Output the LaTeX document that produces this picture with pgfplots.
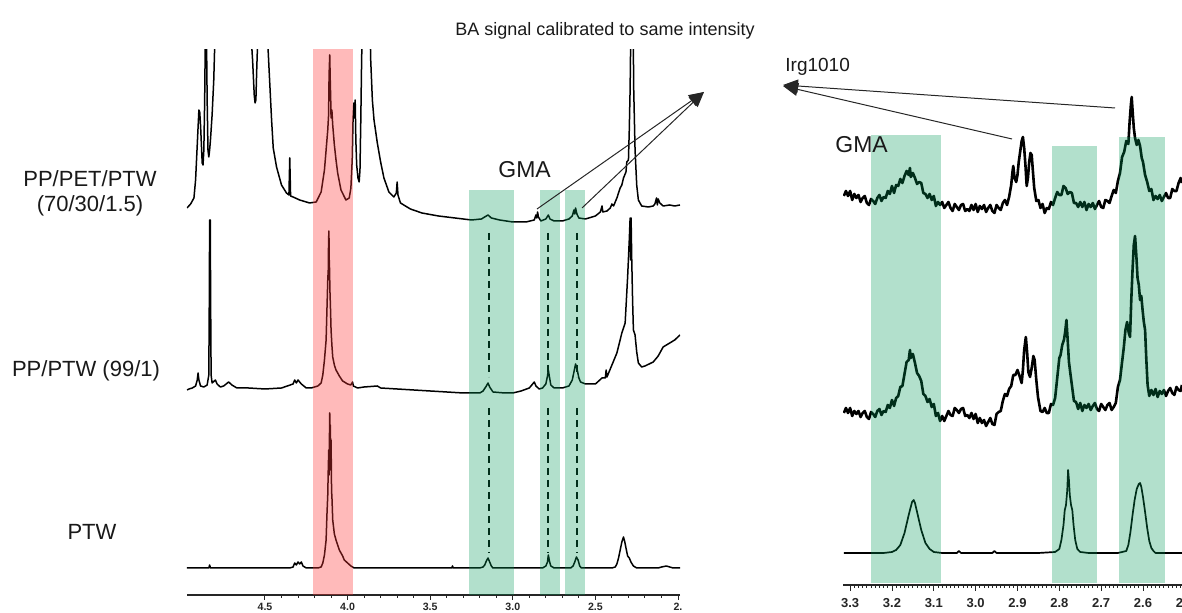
\documentclass[border=0pt]{standalone}
\usepackage{pgfplots}
\pgfplotsset{compat=1.18}
\usepackage{fontspec}
\setmainfont{Liberation Sans}
\usetikzlibrary{arrows.meta}
\definecolor{bandgreen}{RGB}{0,153,87}
\definecolor{bandred}{RGB}{255,57,57}
\definecolor{txt}{RGB}{25,25,25}
\begin{document}
\begin{tikzpicture}
\useasboundingbox (0,0) rectangle (591pt,306.5pt);
% ---------------- left panel ----------------
\begin{axis}[
  at={(93.5pt,9pt)}, anchor=south west, scale only axis,
  width=246.5pt, height=272.5pt,
  x dir=reverse, xmin=1.988, xmax=4.972, ymin=-595, ymax=-50,
  axis x line=bottom, axis y line=none,
  axis line style={-, line width=0.6pt, black!85},
  xtick={2.0,2.5,3.0,3.5,4.0,4.5}, xticklabels={2.,2.5,3.0,3.5,4.0,4.5},
  minor x tick num=4,
  tick align=outside, major tick length=2.5pt, minor tick length=1.5pt,
  tick style={line width=0.5pt, black!85},
  xticklabel style={font=\fontsize{5.3}{6}\selectfont\bfseries, text=black!85, yshift=1.8pt},
  /pgf/number format/assume math mode=true,
]
% PTW (bottom)
\addplot[mark=none, black, line width=0.75pt, line join=round] coordinates {
(4.972,-568)(4.84,-568)(4.835,-565)(4.83,-568)(4.73,-568)(4.35,-568)(4.33,-567)(4.32,-563)(4.31,-565)(4.30,-562)(4.29,-564)(4.28,-562)(4.27,-566)(4.25,-568)(4.18,-568)(4.16,-567)(4.15,-563)(4.14,-555)(4.13,-540)(4.125,-515)(4.12,-495)(4.117,-470)(4.114,-450)(4.112,-475)(4.110,-440)(4.108,-413)(4.106,-450)(4.104,-425)(4.102,-470)(4.100,-440)(4.097,-490)(4.094,-500)(4.09,-520)(4.08,-534)(4.07,-540)(4.06,-545)(4.05,-550)(4.04,-553)(4.03,-556)(4.02,-560)(4.00,-563)(3.98,-566)(3.96,-568)(3.37,-568)(3.365,-566)(3.36,-568)(3.20,-568)(3.18,-567)(3.17,-565)(3.16,-561)(3.15,-558)(3.14,-562)(3.13,-566)(3.12,-568)(2.82,-568)(2.80,-566)(2.79,-562)(2.785,-555)(2.777,-562)(2.77,-566)(2.75,-568)(2.65,-568)(2.635,-566)(2.625,-562)(2.615,-557)(2.605,-560)(2.595,-566)(2.585,-568)(2.40,-568)(2.38,-567)(2.37,-564)(2.36,-558)(2.35,-550)(2.34,-542)(2.33,-537)(2.322,-542)(2.315,-548)(2.305,-556)(2.295,-558)(2.285,-562)(2.27,-566)(2.25,-568)(2.12,-568)(2.10,-567)(2.07,-566)(2.05,-567)(2.03,-568)(1.988,-568)
};
% PP/PTW (middle)
\addplot[mark=none, black, line width=0.75pt, line join=round] coordinates {
(4.972,-390)(4.96,-389)(4.94,-388)(4.92,-386)(4.91,-380)(4.905,-373)(4.90,-380)(4.89,-386)(4.87,-387)(4.85,-385)(4.84,-375)(4.837,-300)(4.835,-220)(4.833,-300)(4.831,-220)(4.829,-300)(4.826,-375)(4.82,-383)(4.80,-380)(4.79,-384)(4.77,-387)(4.75,-386)(4.72,-382)(4.70,-385)(4.67,-388)(4.60,-388)(4.50,-389)(4.40,-388)(4.33,-384)(4.32,-380)(4.31,-383)(4.30,-380)(4.28,-384)(4.25,-388)(4.22,-388)(4.18,-386)(4.16,-383)(4.15,-375)(4.14,-360)(4.13,-340)(4.125,-310)(4.12,-280)(4.117,-270)(4.115,-240)(4.113,-231)(4.111,-260)(4.109,-270)(4.107,-290)(4.104,-305)(4.10,-330)(4.095,-345)(4.09,-357)(4.08,-365)(4.07,-370)(4.05,-376)(4.03,-381)(4.00,-384)(3.98,-385)(3.97,-382)(3.965,-386)(3.94,-388)(3.90,-387)(3.82,-386)(3.80,-388)(3.70,-389)(3.60,-390)(3.50,-391)(3.40,-392)(3.30,-393)(3.20,-393)(3.18,-391)(3.16,-386)(3.15,-383)(3.14,-387)(3.12,-392)(3.05,-393)(3.00,-393)(2.95,-391)(2.90,-388)(2.88,-384)(2.87,-382)(2.86,-386)(2.84,-389)(2.82,-388)(2.80,-384)(2.79,-376)(2.785,-370)(2.78,-375)(2.77,-385)(2.75,-388)(2.70,-388)(2.66,-386)(2.64,-380)(2.63,-372)(2.62,-364)(2.61,-370)(2.60,-378)(2.59,-382)(2.56,-384)(2.50,-384)(2.46,-378)(2.44,-378)(2.435,-370)(2.43,-377)(2.40,-365)(2.37,-353)(2.34,-333)(2.32,-323)(2.305,-277)(2.295,-240)(2.29,-218)(2.287,-260)(2.284,-218)(2.28,-260)(2.275,-300)(2.27,-330)(2.26,-335)(2.25,-352)(2.24,-363)(2.22,-367)(2.20,-366)(2.15,-362)(2.12,-356)(2.09,-347)(2.05,-343)(2.02,-340)(1.988,-335)
};
% PP/PET/PTW (top)
\addplot[mark=none, black, line width=0.75pt, line join=round] coordinates {
(4.972,-208)(4.95,-204)(4.93,-198)(4.92,-180)(4.91,-145)(4.90,-110)(4.895,-112)(4.89,-125)(4.88,-163)(4.875,-165)(4.87,-150)(4.865,-100)(4.86,-20)(4.855,-20)(4.85,-100)(4.845,-150)(4.84,-157)(4.835,-150)(4.83,-140)(4.82,-115)(4.81,-80)(4.80,-20)(4.59,-20)(4.575,-60)(4.565,-95)(4.56,-103)(4.555,-100)(4.55,-70)(4.54,-20)(4.49,-20)(4.475,-70)(4.46,-120)(4.45,-148)(4.43,-167)(4.40,-185)(4.37,-193)(4.355,-195)(4.35,-158)(4.345,-196)(4.33,-197)(4.29,-200)(4.23,-203)(4.19,-202)(4.16,-192)(4.14,-170)(4.13,-150)(4.12,-130)(4.115,-115)(4.112,-75)(4.108,-55)(4.105,-80)(4.102,-100)(4.10,-118)(4.095,-110)(4.09,-125)(4.08,-145)(4.07,-160)(4.06,-173)(4.04,-190)(4.01,-200)(3.99,-198)(3.98,-188)(3.972,-160)(3.967,-120)(3.962,-103)(3.958,-118)(3.954,-100)(3.95,-140)(3.945,-165)(3.937,-178)(3.93,-182)(3.925,-170)(3.92,-120)(3.915,-60)(3.91,-20)(3.865,-20)(3.86,-60)(3.85,-100)(3.84,-120)(3.82,-143)(3.80,-162)(3.78,-178)(3.75,-192)(3.72,-197)(3.705,-193)(3.70,-182)(3.695,-195)(3.68,-203)(3.62,-209)(3.55,-213)(3.45,-216)(3.35,-218)(3.25,-220)(3.19,-219)(3.16,-216)(3.15,-215)(3.13,-218)(3.08,-220)(3.00,-222)(2.92,-222)(2.87,-220)(2.86,-215)(2.855,-218)(2.85,-212)(2.845,-217)(2.83,-221)(2.80,-219)(2.785,-215)(2.775,-219)(2.75,-221)(2.70,-221)(2.66,-219)(2.64,-216)(2.63,-210)(2.625,-214)(2.62,-208)(2.612,-214)(2.60,-218)(2.56,-219)(2.50,-216)(2.47,-212)(2.46,-206)(2.455,-212)(2.43,-211)(2.41,-208)(2.40,-204)(2.39,-206)(2.37,-198)(2.35,-188)(2.34,-185)(2.33,-178)(2.315,-172)(2.31,-162)(2.30,-160)(2.295,-130)(2.29,-90)(2.285,-20)(2.272,-20)(2.268,-90)(2.26,-150)(2.25,-185)(2.24,-200)(2.22,-206)(2.18,-207)(2.15,-206)(2.14,-204)(2.13,-198)(2.125,-205)(2.12,-199)(2.11,-203)(2.09,-206)(2.05,-205)(2.02,-206)(1.988,-205)
};
% dashed guides
\draw[black, line width=0.95pt, dash pattern=on 3.5pt off 2.5pt] (axis cs:3.146,-233) -- (axis cs:3.146,-377);
\draw[black, line width=0.95pt, dash pattern=on 3.5pt off 2.5pt] (axis cs:2.787,-233) -- (axis cs:2.787,-377);
\draw[black, line width=0.95pt, dash pattern=on 3.5pt off 2.5pt] (axis cs:2.614,-233) -- (axis cs:2.614,-377);
\draw[black, line width=0.95pt, dash pattern=on 3.5pt off 2.5pt] (axis cs:3.146,-408) -- (axis cs:3.146,-553);
\draw[black, line width=0.95pt, dash pattern=on 3.5pt off 2.5pt] (axis cs:2.787,-408) -- (axis cs:2.787,-553);
\draw[black, line width=0.95pt, dash pattern=on 3.5pt off 2.5pt] (axis cs:2.614,-408) -- (axis cs:2.614,-553);
% bands (on top, translucent)
\fill[bandred, fill opacity=0.35] (axis cs:4.208,-595) rectangle (axis cs:3.969,-48);
\fill[bandgreen, fill opacity=0.30] (axis cs:3.265,-595) rectangle (axis cs:2.995,-190);
\fill[bandgreen, fill opacity=0.30] (axis cs:2.837,-595) rectangle (axis cs:2.716,-190);
\fill[bandgreen, fill opacity=0.30] (axis cs:2.686,-595) rectangle (axis cs:2.565,-190);
\end{axis}
% ---------------- right panel ----------------
\begin{axis}[
  at={(421.5pt,14pt)}, anchor=south west, scale only axis,
  width=173pt, height=262.5pt,
  x dir=reverse, xmin=2.49, xmax=3.317, ymin=-585, ymax=-60,
  axis x line=bottom, axis y line=none,
  axis line style={-, line width=0.6pt, black!85},
  xtick={2.5,2.6,2.7,2.8,2.9,3.0,3.1,3.2,3.3}, xticklabels={2.5,2.6,2.7,2.8,2.9,3.0,3.1,3.2,3.3},
  minor x tick num=9,
  tick align=outside, major tick length=3pt, minor tick length=1.5pt,
  tick style={line width=0.45pt, black!85},
  xticklabel style={font=\fontsize{6.5}{7.5}\selectfont\bfseries, text=black!85},
  /pgf/number format/assume math mode=true,
]
% top (PP/PET/PTW zoom)
\addplot[mark=none, black, line width=1.3pt, line join=round] coordinates {
(3.315,-196)(3.310,-191)(3.305,-196)(3.300,-191)(3.295,-200)(3.290,-194)(3.285,-198)(3.280,-195)(3.275,-202)(3.270,-198)(3.265,-196)(3.260,-203)(3.255,-205)(3.250,-199)(3.245,-201)(3.240,-204)(3.235,-198)(3.230,-195)(3.225,-201)(3.220,-197)(3.215,-198)(3.210,-191)(3.205,-194)(3.200,-186)(3.195,-193)(3.190,-185)(3.185,-186)(3.180,-179)(3.175,-183)(3.170,-176)(3.165,-171)(3.160,-175)(3.157,-168)(3.155,-177)(3.150,-173)(3.145,-178)(3.140,-184)(3.135,-182)(3.130,-183)(3.125,-193)(3.120,-194)(3.115,-198)(3.110,-194)(3.105,-200)(3.100,-196)(3.095,-206)(3.090,-202)(3.085,-205)(3.080,-202)(3.075,-208)(3.070,-205)(3.065,-202)(3.060,-208)(3.055,-211)(3.050,-204)(3.045,-207)(3.040,-210)(3.035,-205)(3.030,-204)(3.025,-211)(3.020,-209)(3.015,-211)(3.010,-205)(3.005,-210)(3.000,-204)(2.995,-212)(2.990,-206)(2.985,-209)(2.980,-205)(2.975,-212)(2.970,-208)(2.965,-205)(2.960,-211)(2.955,-213)(2.950,-205)(2.945,-208)(2.940,-210)(2.935,-203)(2.930,-200)(2.925,-205)(2.920,-197)(2.915,-185)(2.912,-172)(2.910,-166)(2.907,-178)(2.903,-182)(2.900,-175)(2.897,-162)(2.893,-150)(2.890,-141)(2.887,-137)(2.884,-148)(2.881,-165)(2.878,-186)(2.875,-178)(2.872,-162)(2.869,-153)(2.866,-155)(2.863,-172)(2.860,-188)(2.855,-201)(2.850,-200)(2.845,-208)(2.840,-204)(2.835,-213)(2.830,-208)(2.825,-209)(2.820,-202)(2.815,-205)(2.810,-198)(2.805,-192)(2.800,-195)(2.795,-195)(2.790,-186)(2.785,-188)(2.780,-194)(2.775,-192)(2.770,-193)(2.765,-203)(2.760,-203)(2.755,-207)(2.750,-202)(2.745,-207)(2.740,-202)(2.735,-210)(2.730,-204)(2.725,-207)(2.720,-203)(2.715,-209)(2.710,-205)(2.705,-201)(2.700,-207)(2.695,-208)(2.690,-200)(2.685,-201)(2.680,-203)(2.675,-196)(2.670,-190)(2.665,-193)(2.660,-181)(2.655,-173)(2.650,-157)(2.645,-152)(2.640,-141)(2.635,-144)(2.632,-122)(2.629,-105)(2.627,-97)(2.625,-110)(2.622,-128)(2.619,-138)(2.615,-145)(2.611,-140)(2.607,-146)(2.603,-158)(2.600,-162)(2.595,-175)(2.590,-182)(2.585,-191)(2.580,-189)(2.575,-200)(2.570,-196)(2.565,-199)(2.560,-195)(2.555,-201)(2.550,-197)(2.545,-193)(2.540,-198)(2.535,-198)(2.530,-189)(2.525,-191)(2.520,-191)(2.515,-183)(2.510,-178)(2.507,-183)
};
% middle (PP/PTW zoom)
\addplot[mark=none, black, line width=1.3pt, line join=round] coordinates {
(3.315,-413)(3.310,-408)(3.305,-413)(3.300,-408)(3.295,-416)(3.290,-411)(3.285,-414)(3.280,-411)(3.275,-417)(3.270,-413)(3.265,-411)(3.260,-417)(3.255,-419)(3.250,-412)(3.245,-414)(3.240,-417)(3.235,-411)(3.230,-409)(3.225,-415)(3.220,-411)(3.215,-412)(3.210,-405)(3.205,-408)(3.200,-400)(3.195,-406)(3.190,-398)(3.185,-396)(3.180,-387)(3.175,-386)(3.170,-374)(3.165,-362)(3.160,-360)(3.157,-350)(3.155,-358)(3.150,-354)(3.145,-363)(3.140,-373)(3.135,-376)(3.130,-381)(3.125,-394)(3.120,-396)(3.115,-402)(3.110,-399)(3.105,-407)(3.100,-404)(3.095,-416)(3.090,-413)(3.085,-421)(3.080,-416)(3.075,-421)(3.070,-416)(3.065,-411)(3.060,-415)(3.055,-416)(3.050,-408)(3.045,-410)(3.040,-413)(3.035,-409)(3.030,-408)(3.025,-416)(3.020,-415)(3.015,-418)(3.010,-413)(3.005,-419)(3.000,-414)(2.995,-423)(2.990,-418)(2.985,-423)(2.980,-420)(2.975,-426)(2.970,-422)(2.965,-418)(2.960,-424)(2.955,-425)(2.950,-414)(2.945,-412)(2.940,-411)(2.935,-401)(2.930,-394)(2.925,-396)(2.920,-389)(2.915,-386)(2.910,-375)(2.905,-375)(2.900,-370)(2.895,-376)(2.890,-383)(2.887,-370)(2.884,-350)(2.880,-337)(2.877,-352)(2.874,-372)(2.870,-377)(2.866,-368)(2.862,-356)(2.859,-360)(2.855,-380)(2.851,-397)(2.845,-411)(2.840,-412)(2.835,-408)(2.830,-413)(2.825,-413)(2.820,-404)(2.815,-405)(2.810,-398)(2.805,-378)(2.800,-358)(2.797,-355)(2.793,-345)(2.789,-340)(2.786,-332)(2.783,-320)(2.780,-340)(2.777,-362)(2.774,-372)(2.770,-385)(2.765,-401)(2.760,-402)(2.755,-409)(2.750,-403)(2.745,-411)(2.740,-405)(2.735,-408)(2.730,-404)(2.725,-410)(2.720,-406)(2.715,-403)(2.710,-409)(2.705,-411)(2.700,-404)(2.695,-407)(2.690,-410)(2.685,-405)(2.680,-403)(2.675,-410)(2.670,-407)(2.665,-403)(2.660,-387)(2.655,-380)(2.650,-362)(2.646,-348)(2.642,-330)(2.638,-322)(2.634,-333)(2.631,-337)(2.628,-300)(2.625,-270)(2.622,-245)(2.619,-236)(2.616,-255)(2.613,-278)(2.610,-285)(2.607,-300)(2.604,-296)(2.601,-310)(2.598,-322)(2.595,-330)(2.592,-360)(2.589,-385)(2.585,-396)(2.580,-390)(2.575,-395)(2.570,-389)(2.565,-397)(2.560,-391)(2.555,-394)(2.550,-390)(2.545,-396)(2.540,-391)(2.535,-388)(2.530,-393)(2.525,-395)(2.520,-387)(2.515,-390)(2.510,-391)(2.507,-385)
};
% bottom (PTW zoom)
\addplot[mark=none, black, line width=0.85pt, line join=round] coordinates {
(3.315,-553)(3.22,-553)(3.20,-552)(3.19,-550)(3.18,-545)(3.17,-533)(3.16,-515)(3.152,-502)(3.148,-500)(3.145,-503)(3.14,-512)(3.13,-530)(3.12,-543)(3.11,-549)(3.10,-552)(3.08,-553)(3.045,-553)(3.04,-551)(3.035,-553)(2.96,-553)(2.955,-551)(2.95,-553)(2.85,-553)(2.81,-552)(2.80,-549)(2.795,-540)(2.79,-525)(2.787,-510)(2.784,-505)(2.781,-490)(2.779,-470)(2.777,-480)(2.775,-495)(2.772,-505)(2.769,-510)(2.766,-525)(2.762,-540)(2.757,-549)(2.75,-552)(2.73,-553)(2.66,-553)(2.64,-551)(2.635,-545)(2.63,-532)(2.625,-515)(2.62,-500)(2.615,-489)(2.61,-484)(2.607,-483)(2.604,-487)(2.60,-497)(2.595,-512)(2.59,-528)(2.585,-541)(2.58,-548)(2.575,-551)(2.57,-553)(2.507,-553)
};
\fill[bandgreen, fill opacity=0.30] (axis cs:3.2498,-583) rectangle (axis cs:3.0826,-135);
\fill[bandgreen, fill opacity=0.30] (axis cs:2.817,-583) rectangle (axis cs:2.710,-146);
\fill[bandgreen, fill opacity=0.30] (axis cs:2.657,-583) rectangle (axis cs:2.547,-137);
\end{axis}
% ---------------- annotations (pixel coordinates) ----------------
\begin{scope}[x=0.5pt, y=-0.5pt, shift={(0,306.5pt)}]
\node[anchor=base, text=txt, font=\fontsize{9}{11}\selectfont, inner sep=0] at (605,36) {BA signal calibrated to same intensity};
\node[anchor=base west, text=txt, font=\fontsize{9.5}{11}\selectfont, inner sep=0] at (785,72) {Irg1010};
\node[anchor=base west, text=txt, font=\fontsize{11.5}{13}\selectfont, inner sep=0] at (498,178) {GMA};
\node[anchor=base west, text=txt, font=\fontsize{11.5}{13}\selectfont, inner sep=0] at (835,153) {GMA};
\node[anchor=base, text=txt, font=\fontsize{11}{13}\selectfont, inner sep=0] at (90,187) {PP/PET/PTW};
\node[anchor=base, text=txt, font=\fontsize{11}{13}\selectfont, inner sep=0] at (90,212) {(70/30/1.5)};
\node[anchor=base, text=txt, font=\fontsize{11}{13}\selectfont, inner sep=0] at (86,377) {PP/PTW (99/1)};
\node[anchor=base, text=txt, font=\fontsize{11}{13}\selectfont, inner sep=0] at (92,540) {PTW};
\draw[black!85, line width=0.5pt, -{Triangle[length=7.5pt,width=6.5pt]}] (1115,108) -- (783,85);
\draw[black!85, line width=0.5pt, -{Triangle[length=7.5pt,width=6.5pt]}] (1012,139) -- (783,86);
\draw[black!85, line width=0.5pt, -{Triangle[length=7.5pt,width=6.5pt]}] (537,209) -- (704,92);
\draw[black!85, line width=0.5pt, -{Triangle[length=7.5pt,width=6.5pt]}] (582,208) -- (704,92);
\end{scope}
\end{tikzpicture}
\end{document}
